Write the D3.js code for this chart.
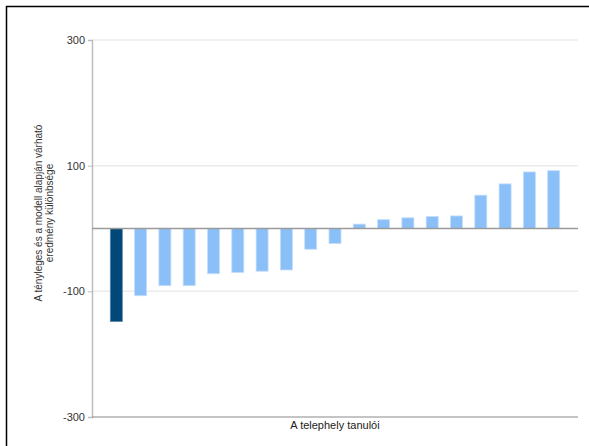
<!DOCTYPE html>
<html>
<head>
<meta charset="utf-8">
<script src="https://cdn.jsdelivr.net/npm/d3@7"></script>
<style>
  body { margin: 0; background: #fff; }
  svg { display: block; font-family: "Liberation Sans", Arial, sans-serif; }
</style>
</head>
<body>
<script>
// students of the site, sorted by difference
const students = d3.range(1, 20).map((i) => "t" + i);
const diffs = [-148, -107, -91, -91, -72, -70, -68, -66, -33, -24, 7, 14, 17, 19, 20, 53, 71, 90, 92];
const highlighted = ["t1"];
const yTicks = [300, 100, -100, -300];
const yTitle = ["A tényleges és a modell alapján várható", "eredmény különbsége"];
const xTitle = "A telephely tanulói";

const width = 589, height = 446;
const margin = { top: 40, right: 11, bottom: 29, left: 92 };

const svg = d3.select("body").append("svg")
    .attr("width", width)
    .attr("height", height);

// frame (top + left only visible)
svg.append("line").attr("x1", 6).attr("x2", width).attr("y1", 6.5).attr("y2", 6.5)
    .attr("stroke", "#000").attr("stroke-width", 1.5);
svg.append("line").attr("x1", 6.5).attr("x2", 6.5).attr("y1", 6).attr("y2", height)
    .attr("stroke", "#000").attr("stroke-width", 1.5);

const x = d3.scalePoint()
    .domain(students)
    .range([margin.left, width - margin.right])
    .padding(1);

const y = d3.scaleLinear()
    .domain([-300, 300])
    .range([height - margin.bottom, margin.top]);

// grid lines
svg.append("g")
    .selectAll("line")
    .data(yTicks.filter((d) => d !== -300))
    .join("line")
    .attr("x1", margin.left)
    .attr("x2", width - margin.right)
    .attr("y1", (d) => y(d))
    .attr("y2", (d) => y(d))
    .attr("stroke", "#ebebeb")
    .attr("stroke-width", 1.5);

// y axis
const yAxis = svg.append("g")
    .attr("transform", `translate(${margin.left},0)`)
    .call(d3.axisLeft(y).tickValues(yTicks).tickFormat((d) => String(d)).tickSize(4).tickPadding(3));
yAxis.select(".domain").attr("stroke", "#bdbdbd").attr("stroke-width", 1.5);
yAxis.selectAll(".tick line").attr("stroke", "#bdbdbd");
yAxis.selectAll(".tick text")
    .attr("fill", "#333")
    .attr("font-size", 11)
    .attr("font-family", "Liberation Sans, Arial, sans-serif");

// bars
const bw = 12;
svg.append("g")
    .selectAll("rect")
    .data(students.map((s, i) => ({ s, v: diffs[i] })))
    .join("rect")
    .attr("x", (d) => x(d.s) - bw / 2)
    .attr("width", bw)
    .attr("y", (d) => y(Math.max(0, d.v)))
    .attr("height", (d) => Math.abs(y(d.v) - y(0)))
    .attr("fill", (d) => highlighted.includes(d.s) ? "#004878" : "#8bbff8")
    .attr("stroke", (d) => highlighted.includes(d.s) ? "#5a86a8" : "#c4defb")
    .attr("stroke-width", 0.8);

// zero line
svg.append("line")
    .attr("x1", margin.left)
    .attr("x2", width - margin.right)
    .attr("y1", y(0))
    .attr("y2", y(0))
    .attr("stroke", "#9a9a9a")
    .attr("stroke-width", 1.5);

// bottom axis line
svg.append("line")
    .attr("x1", margin.left)
    .attr("x2", width - margin.right)
    .attr("y1", y(-300))
    .attr("y2", y(-300))
    .attr("stroke", "#8a8a8a")
    .attr("stroke-width", 1.2);

// axis titles
svg.append("text")
    .attr("x", (margin.left + width - margin.right) / 2)
    .attr("y", y(-300) + 12)
    .attr("text-anchor", "middle")
    .attr("font-size", 11)
    .attr("fill", "#222")
    .text(xTitle);

svg.append("text")
    .attr("transform", "translate(42,213) rotate(-90)")
    .attr("text-anchor", "middle")
    .attr("font-size", 10)
    .attr("fill", "#333")
    .selectAll("tspan")
    .data(yTitle)
    .join("tspan")
    .attr("x", 0)
    .attr("dy", (d, i) => i === 0 ? 0 : 11)
    .text((d) => d);
</script>
</body>
</html>
